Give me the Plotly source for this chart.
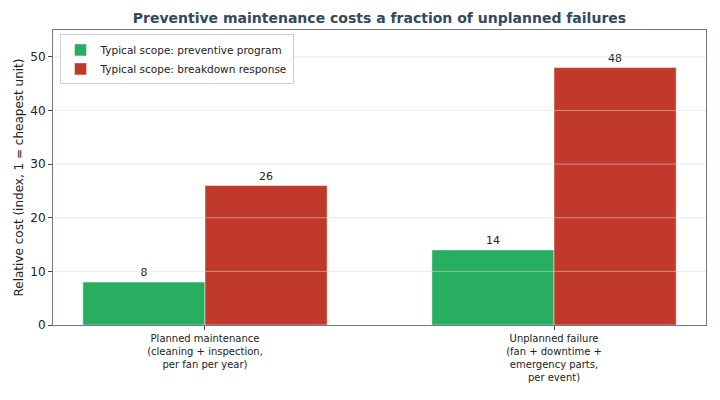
import plotly.graph_objects as go

categories = [
    "Planned maintenance<br>(cleaning + inspection,<br>per fan per year)",
    "Unplanned failure<br>(fan + downtime +<br>emergency parts,<br>per event)",
]
preventive = [8, 14]
breakdown = [26, 48]
series_names = ["Typical scope: preventive program", "Typical scope: breakdown response"]
y_ticks = [0, 10, 20, 30, 40, 50]

GREEN = "#27ae60"
RED = "#c0392b"
FONT = "DejaVu Sans"

fig = go.Figure()
for name, vals, col in [(series_names[0], preventive, GREEN), (series_names[1], breakdown, RED)]:
    fig.add_trace(go.Bar(
        x=categories, y=vals, name=name,
        marker=dict(color=col, line=dict(color="rgba(255,255,255,0.6)", width=0.8)),
        text=[str(v) for v in vals], textposition="outside",
        textfont=dict(size=11, color="#222", family=FONT),
        cliponaxis=False, width=0.35,
    ))

# gridlines drawn above bars (as in reference)
for t in y_ticks[1:]:
    fig.add_shape(type="line", xref="paper", x0=0, x1=1, yref="y", y0=t, y1=t,
                  line=dict(color="rgba(215,215,215,0.55)", width=1), layer="above")

fig.update_layout(
    width=720, height=400,
    margin=dict(l=53, r=14, t=30, b=75),
    paper_bgcolor="white", plot_bgcolor="white",
    barmode="group", bargap=0.3, bargroupgap=0,
    font=dict(family=FONT, color="#222"),
    title=dict(text="<b>Preventive maintenance costs a fraction of unplanned failures</b>",
               x=0.527, xanchor="center", y=0.955, yanchor="middle",
               font=dict(size=14, color="#34495e", family=FONT)),
    legend=dict(x=0.01, y=0.985, xanchor="left", yanchor="top",
                bgcolor="rgba(255,255,255,0.85)", bordercolor="#d0d0d0", borderwidth=1,
                font=dict(size=10.5, family=FONT), tracegroupgap=0,
                itemwidth=30),
    showlegend=True,
)
fig.update_xaxes(
    range=[-0.4355, 1.4355], showgrid=False,
    showline=True, linecolor="#6c7a89", linewidth=1, mirror=True,
    ticks="outside", ticklen=4, tickcolor="#444",
    tickfont=dict(size=10, family=FONT, color="#222"),
)
fig.update_yaxes(
    range=[0, 55], tickvals=y_ticks, showgrid=False, zeroline=False,
    showline=True, linecolor="#6c7a89", linewidth=1, mirror=True,
    ticks="outside", ticklen=4, tickcolor="#444",
    tickfont=dict(size=12, family=FONT, color="#222"),
    title=dict(text="Relative cost (index, 1 = cheapest unit)", font=dict(size=12, family=FONT, color="#222"), standoff=4),
)

fig.write_html("out.html", config={"displayModeBar": False},
               post_script="document.body.style.margin='0';document.body.style.overflow='hidden';")
